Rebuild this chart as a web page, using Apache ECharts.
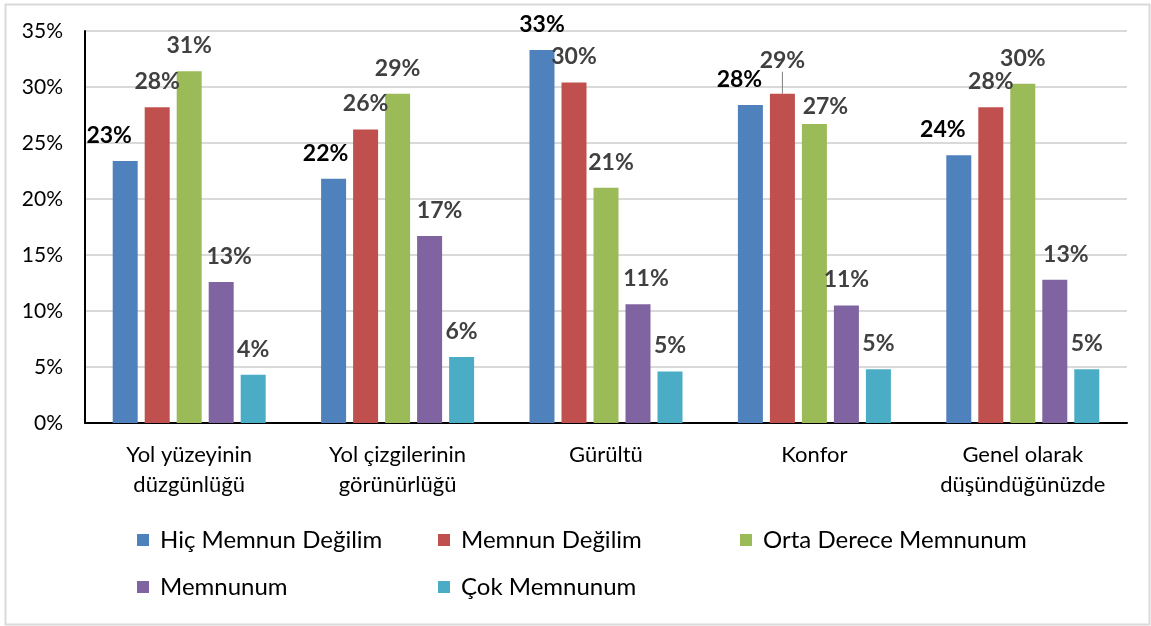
<!DOCTYPE html>
<html>
<head>
<meta charset="utf-8">
<script src="https://cdn.jsdelivr.net/npm/echarts@6/dist/echarts.min.js"></script>
<style>
  html, body { margin: 0; padding: 0; background: #fff; }
  #chart { width: 1151px; height: 626px; }
</style>
</head>
<body>
<div id="chart"></div>
<script>
// Survey categories (x axis)
const categories = [
  'Yol yüzeyinin\ndüzgünlüğü',
  'Yol çizgilerinin\ngörünürlüğü',
  'Gürültü',
  'Konfor',
  'Genel olarak\ndüşündüğünüzde'
];

// Series names (legend)
const seriesNames = ['Hiç Memnun Değilim', 'Memnun Değilim', 'Orta Derece Memnunum', 'Memnunum', 'Çok Memnunum'];

// Shares per answer, in percent
const hicMemnunDegilim   = [23.4, 21.8, 33.3, 28.4, 23.9];
const memnunDegilim      = [28.2, 26.2, 30.4, 29.4, 28.2];
const ortaDereceMemnunum = [31.4, 29.4, 21.0, 26.7, 30.3];
const memnunum           = [12.6, 16.7, 10.6, 10.5, 12.8];
const cokMemnunum        = [4.3, 5.9, 4.6, 4.8, 4.8];

// Y axis ticks (percent)
const yTicks = [0, 5, 10, 15, 20, 25, 30, 35];

const seriesValues = [hicMemnunDegilim, memnunDegilim, ortaDereceMemnunum, memnunum, cokMemnunum];
const colors = ['#4F81BD', '#C0504D', '#9BBB59', '#8064A2', '#4BACC6'];

// Hand-placed label nudges (pixels) per series / category
const labelNudge = [
  [[-16, 0], [-8, 0], [0, 0], [-11, 0], [-16, 0]],
  [[-14, 0], [-16, 0], [16, 0], [0, 0], [0, 0]],
  [[0, 0], [0, 0], [5, 0], [11, 8], [0, 0]],
  [[8, 0], [10, 0], [8, 0], [0, 0], [11, 0]],
  [[0, 0], [0, 0], [0, 0], [0, 0], [0, 0]]
];

const FONT = 'Lato, "Noto Sans", sans-serif';

const series = seriesValues.map((vals, s) => ({
  name: seriesNames[s],
  type: 'bar',
  barWidth: 25,
  barGap: '28%',
  itemStyle: { color: colors[s] },
  label: {
    show: true,
    position: 'top',
    distance: 14,
    fontFamily: FONT,
    fontWeight: 'bold',
    fontSize: 23,
    color: s === 0 ? '#000000' : '#404040',
    formatter: p => Math.round(p.value) + '%'
  },
  labelLine: { show: false, lineStyle: { color: '#7f7f7f', width: 1 } },
  labelLayout: s === 1 ? (p => (p.dataIndex === 3 ? { dy: -8 } : {})) : undefined,
  data: vals.map((v, i) => {
    const item = { value: v, label: { offset: labelNudge[s][i] } };
    if (s === 1 && i === 3) item.labelLine = { show: true, lineStyle: { color: '#7f7f7f', width: 1 } };
    return item;
  })
}));

// Legend: one entry per box, arranged in a 3-column grid
const legendCols = [132, 433, 735];
const legendRows = [523, 570];
const legends = seriesNames.map((name, k) => ({
  data: [name],
  left: legendCols[k % 3],
  top: legendRows[Math.floor(k / 3)],
  itemWidth: 12, itemHeight: 12,
  icon: 'rect',
  textStyle: { fontFamily: FONT, fontSize: 24, color: '#000', padding: [0, 0, 0, 6] }
}));

const chart = echarts.init(document.getElementById('chart'));
chart.setOption({
  animation: false,
  backgroundColor: '#ffffff',
  graphic: [{
    type: 'rect',
    left: 3, top: 2,
    shape: { width: 1144, height: 620 },
    style: { fill: 'none', stroke: '#d9d9d9', lineWidth: 2 },
    silent: true
  }],
  grid: { left: 85, right: 24, top: 31, bottom: 203, containLabel: false },
  legend: legends,
  xAxis: {
    type: 'category',
    data: categories,
    axisLine: { lineStyle: { color: '#000', width: 2 } },
    axisTick: { show: false },
    axisLabel: {
      fontFamily: FONT,
      fontSize: 22,
      color: '#000',
      lineHeight: 30,
      margin: 17,
      interval: 0
    }
  },
  yAxis: {
    type: 'value',
    min: yTicks[0],
    max: yTicks[yTicks.length - 1],
    interval: yTicks[1] - yTicks[0],
    axisLine: { show: true, lineStyle: { color: '#000', width: 2 } },
    axisTick: { show: false },
    splitLine: { lineStyle: { color: '#d9d9d9', width: 2 } },
    axisLabel: {
      fontFamily: FONT,
      fontSize: 21,
      color: '#000',
      margin: 22,
      formatter: '{value}%'
    }
  },
  series: series
});
</script>
</body>
</html>
